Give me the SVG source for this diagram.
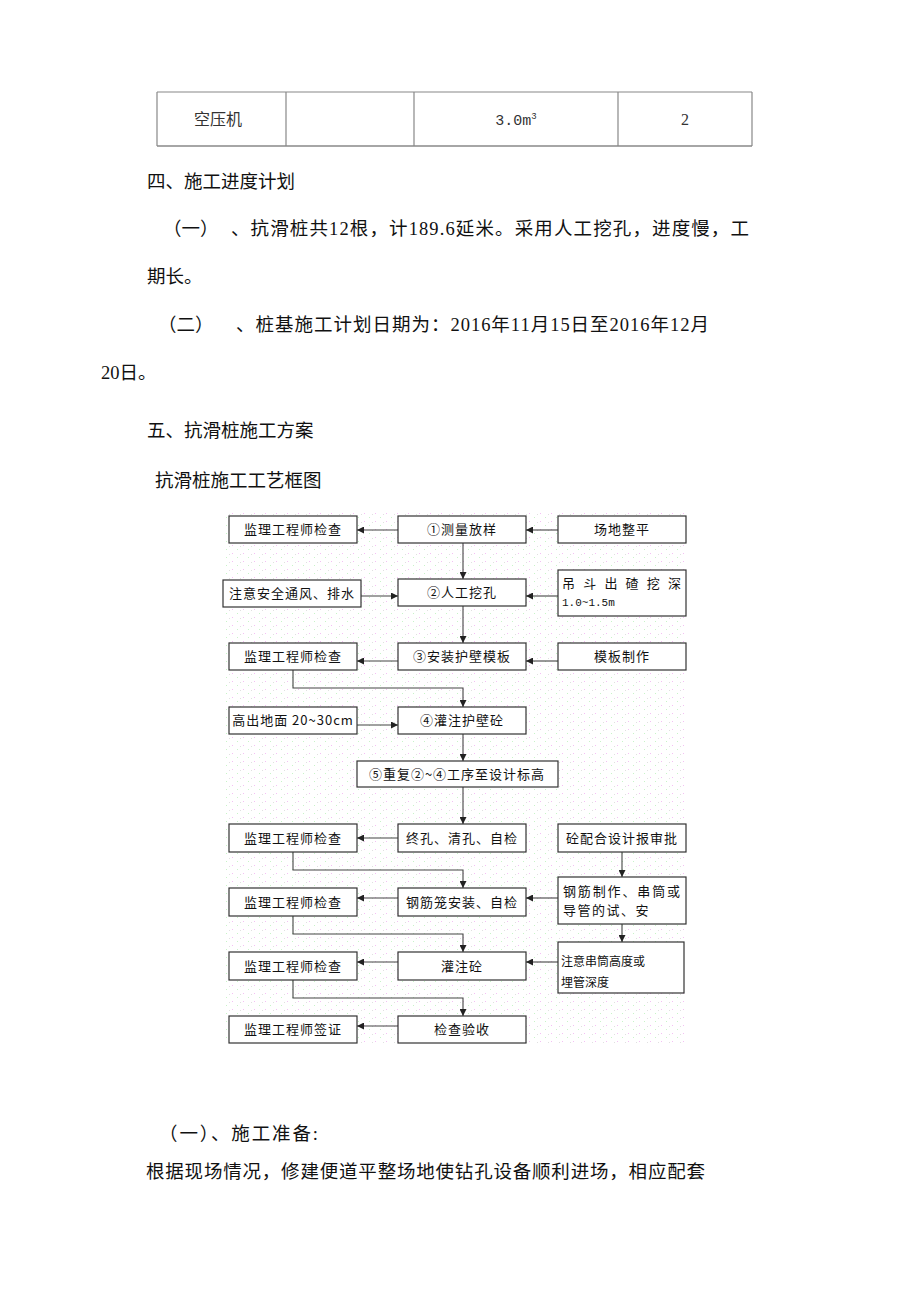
<svg xmlns="http://www.w3.org/2000/svg" width="920" height="1303" viewBox="0 0 920 1303">
<style>
.body{font-family:"Liberation Serif","Noto Sans CJK SC",serif;font-size:18.5px;fill:#111}
.tbl{font-family:"Liberation Serif","Noto Sans CJK SC",serif;font-size:16px;fill:#333}
.box{fill:#fff;stroke:#333;stroke-width:1.2}
.bt{font-family:"Noto Sans CJK SC",sans-serif;font-size:13px;fill:#111;text-anchor:middle;letter-spacing:1px}
.bs{font-family:"Noto Sans CJK SC",sans-serif;font-size:12px;fill:#111}
.ar{fill:none;stroke:#444;stroke-width:1.1;marker-end:url(#ah)}
</style>
<defs>
<marker id="ah" viewBox="0 0 10 10" refX="10" refY="5" markerWidth="7" markerHeight="7" markerUnits="userSpaceOnUse" orient="auto">
<path d="M0,0 L10,5 L0,10 z" fill="#222"/>
</marker>
<pattern id="dots" width="11" height="8" patternUnits="userSpaceOnUse">
<rect x="1" y="1" width="1" height="1" fill="#f4c0f4"/>
<rect x="6" y="5" width="1" height="1" fill="#c8f4c8"/>
<rect x="9" y="2" width="1" height="1" fill="#e0e0e0"/>
</pattern>
</defs>
<rect width="920" height="1303" fill="#fff"/>

<g id="table">
<line x1="157" y1="92" x2="752" y2="92" stroke="#888" stroke-width="1.2"/>
<line x1="157" y1="146" x2="752" y2="146" stroke="#888" stroke-width="1.5"/>
<line x1="157" y1="92" x2="157" y2="146" stroke="#888" stroke-width="1.2"/>
<line x1="286" y1="92" x2="286" y2="146" stroke="#888" stroke-width="1.2"/>
<line x1="414" y1="92" x2="414" y2="146" stroke="#888" stroke-width="1.2"/>
<line x1="618" y1="92" x2="618" y2="146" stroke="#888" stroke-width="1.2"/>
<line x1="752" y1="92" x2="752" y2="146" stroke="#888" stroke-width="1.2"/>
<text class="tbl" x="218" y="125" text-anchor="middle">空压机</text>
<text class="tbl" x="516" y="125" text-anchor="middle" style="font-family:'Liberation Mono',monospace;font-size:15px">3.0m<tspan style="font-size:9px" dy="-6">3</tspan></text>
<text class="tbl" x="685" y="125" text-anchor="middle">2</text>
</g>

<g id="text">
<text class="body" x="147" y="188">四、施工进度计划</text>
<text class="body" x="163" y="235">（一）</text>
<text class="body" x="231" y="235" textLength="518" lengthAdjust="spacing">、抗滑桩共12根，计189.6延米。采用人工挖孔，进度慢，工</text>
<text class="body" x="147" y="283">期长。</text>
<text class="body" x="158" y="331">（二）</text>
<text class="body" x="236" y="331" textLength="473" lengthAdjust="spacing">、桩基施工计划日期为：2016年11月15日至2016年12月</text>
<text class="body" x="101" y="379">20日。</text>
<text class="body" x="147" y="437">五、抗滑桩施工方案</text>
<text class="body" x="155" y="487">抗滑桩施工工艺框图</text>
<text class="body" x="159" y="1140" textLength="159" lengthAdjust="spacing">（一）、施工准备:</text>
<text class="body" x="146" y="1178" textLength="559" lengthAdjust="spacing">根据现场情况，修建便道平整场地使钻孔设备顺利进场，相应配套</text>
</g>

<rect x="222" y="510" width="464" height="534" fill="url(#dots)"/>

<g id="connectors">
<line class="ar" x1="398" y1="530" x2="357" y2="530"/>
<line class="ar" x1="558" y1="530" x2="526" y2="530"/>
<line class="ar" x1="463" y1="543" x2="463" y2="579"/>
<line class="ar" x1="361" y1="596" x2="398" y2="596"/>
<line class="ar" x1="558" y1="596" x2="526" y2="596"/>
<line class="ar" x1="463" y1="606" x2="463" y2="643"/>
<line class="ar" x1="398" y1="661" x2="357" y2="661"/>
<line class="ar" x1="558" y1="661" x2="526" y2="661"/>
<polyline class="ar" points="293,670 293,688 463,688 463,707"/>
<line class="ar" x1="357" y1="725" x2="398" y2="725"/>
<line class="ar" x1="463" y1="734" x2="463" y2="761"/>
<line class="ar" x1="463" y1="787" x2="463" y2="824"/>
<line class="ar" x1="398" y1="838" x2="357" y2="838"/>
<line class="ar" x1="622" y1="852" x2="622" y2="877"/>
<polyline class="ar" points="293,852 293,870 463,870 463,888"/>
<line class="ar" x1="558" y1="898" x2="526" y2="898"/>
<line class="ar" x1="398" y1="898" x2="357" y2="898"/>
<line class="ar" x1="622" y1="924" x2="622" y2="942"/>
<polyline class="ar" points="293,916 293,934 463,934 463,952"/>
<line class="ar" x1="558" y1="962" x2="526" y2="962"/>
<line class="ar" x1="398" y1="962" x2="357" y2="962"/>
<polyline class="ar" points="293,980 293,998 463,998 463,1016"/>
<line class="ar" x1="398" y1="1026" x2="357" y2="1026"/>
</g>

<g id="n-l1"><rect class="box" x="229" y="516" width="128" height="27"/><text class="bt" x="293" y="534">监理工程师检查</text></g>
<g id="n-c1"><rect class="box" x="398" y="516" width="128" height="27"/><text class="bt" x="462" y="534">①测量放样</text></g>
<g id="n-r1"><rect class="box" x="558" y="516" width="128" height="27"/><text class="bt" x="622" y="534">场地整平</text></g>

<g id="n-l2"><rect class="box" x="223" y="580" width="138" height="27"/><text class="bt" x="292" y="598">注意安全通风、排水</text></g>
<g id="n-c2"><rect class="box" x="398" y="579" width="128" height="27"/><text class="bt" x="462" y="597">②人工挖孔</text></g>
<g id="n-r2"><rect class="box" x="558" y="570" width="128" height="46"/><text class="bs" x="562" y="588" textLength="119" lengthAdjust="spacing" style="font-size:13px">吊斗出碴挖深</text><text class="bs" x="562" y="606" style="font-family:'Liberation Mono',monospace;font-size:11px">1.0~1.5m</text></g>

<g id="n-l3"><rect class="box" x="229" y="643" width="128" height="27"/><text class="bt" x="293" y="661">监理工程师检查</text></g>
<g id="n-c3"><rect class="box" x="398" y="643" width="128" height="27"/><text class="bt" x="462" y="661">③安装护壁模板</text></g>
<g id="n-r3"><rect class="box" x="558" y="643" width="128" height="27"/><text class="bt" x="622" y="661">模板制作</text></g>

<g id="n-l4"><rect class="box" x="229" y="707" width="128" height="27"/><text class="bt" x="293" y="725">高出地面 20~30cm</text></g>
<g id="n-c4"><rect class="box" x="398" y="707" width="128" height="27"/><text class="bt" x="462" y="725">④灌注护壁砼</text></g>

<g id="n-c5"><rect class="box" x="357" y="761" width="201" height="26"/><text class="bt" x="457" y="779">⑤重复②~④工序至设计标高</text></g>

<g id="n-l6"><rect class="box" x="229" y="824" width="128" height="28"/><text class="bt" x="293" y="843">监理工程师检查</text></g>
<g id="n-c6"><rect class="box" x="398" y="824" width="128" height="28"/><text class="bt" x="462" y="843">终孔、清孔、自检</text></g>
<g id="n-r6"><rect class="box" x="558" y="824" width="128" height="28"/><text class="bt" x="622" y="843">砼配合设计报审批</text></g>

<g id="n-l7"><rect class="box" x="229" y="888" width="128" height="28"/><text class="bt" x="293" y="907">监理工程师检查</text></g>
<g id="n-c7"><rect class="box" x="398" y="888" width="128" height="28"/><text class="bt" x="462" y="907">钢筋笼安装、自检</text></g>
<g id="n-r7"><rect class="box" x="558" y="877" width="128" height="47"/><text class="bs" x="563" y="896" style="font-size:13px" textLength="117" lengthAdjust="spacing">钢筋制作、串筒或</text><text class="bs" x="563" y="915" style="font-size:13px;letter-spacing:1.5px">导管的试、安</text></g>

<g id="n-l8"><rect class="box" x="229" y="952" width="128" height="28"/><text class="bt" x="293" y="971">监理工程师检查</text></g>
<g id="n-c8"><rect class="box" x="398" y="952" width="128" height="28"/><text class="bt" x="462" y="971">灌注砼</text></g>
<g id="n-r8"><rect class="box" x="558" y="942" width="126" height="51"/><text class="bs" x="561" y="966">注意串筒高度或</text><text class="bs" x="561" y="987">埋管深度</text></g>

<g id="n-l9"><rect class="box" x="229" y="1016" width="128" height="27"/><text class="bt" x="293" y="1034">监理工程师签证</text></g>
<g id="n-c9"><rect class="box" x="398" y="1016" width="128" height="27"/><text class="bt" x="462" y="1034">检查验收</text></g>
</svg>
